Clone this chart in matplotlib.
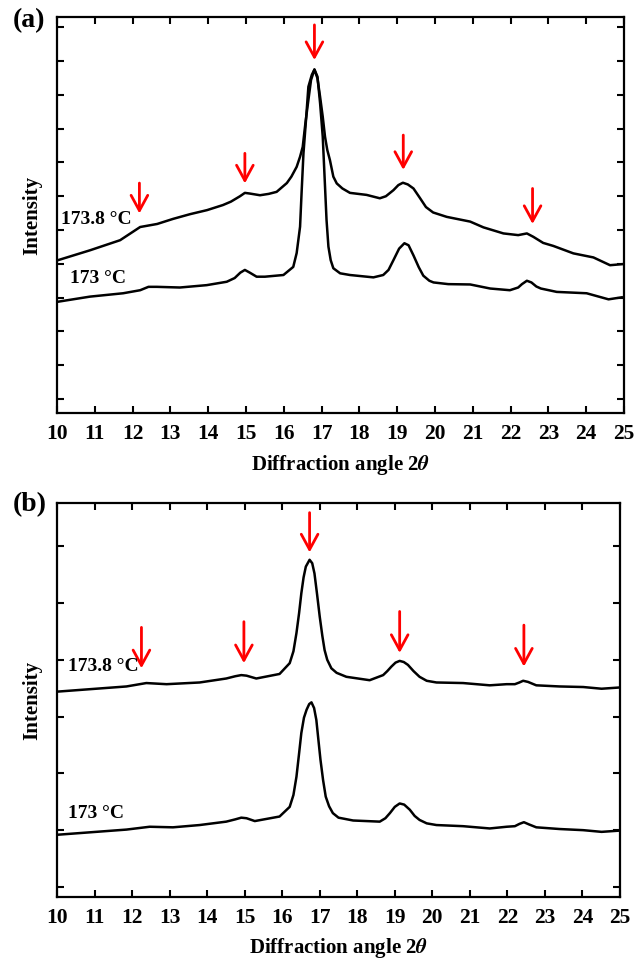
import matplotlib.pyplot as plt

plt.rcParams['font.family'] = ['Liberation Serif', 'DejaVu Serif']
plt.rcParams['font.weight'] = 'bold'
plt.rcParams['mathtext.fontset'] = 'stix'

# ---- panel (a) ----
a_hi_x = [10.03, 10.87, 11.67, 12.2, 12.65, 13.07, 13.52, 13.97, 14.39, 14.6, 14.84, 14.97,
          15.1, 15.37, 15.6, 15.81, 16.08, 16.2, 16.34, 16.43, 16.5, 16.57, 16.64, 16.72,
          16.81, 16.89, 16.96, 17.03, 17.09, 17.15, 17.22, 17.31, 17.4, 17.55, 17.75, 18.19,
          18.54, 18.7, 18.9, 19.03, 19.15, 19.28, 19.43, 19.6, 19.76, 19.95, 20.31, 20.93,
          21.28, 21.81, 22.2, 22.43, 22.6, 22.86, 23.13, 23.66, 24.19, 24.63, 24.94]
a_hi_y = [4.11, 4.40, 4.70, 5.09, 5.18, 5.33, 5.47, 5.59, 5.74, 5.84, 6.00, 6.10,
          6.08, 6.03, 6.07, 6.13, 6.39, 6.58, 6.87, 7.17, 7.46, 8.15, 8.76, 9.44,
          9.75, 9.49, 8.94, 8.35, 7.76, 7.37, 7.07, 6.58, 6.38, 6.23, 6.10, 6.04,
          5.94, 6.00, 6.18, 6.33, 6.40, 6.35, 6.23, 5.95, 5.68, 5.52, 5.39, 5.25,
          5.08, 4.90, 4.85, 4.90, 4.80, 4.62, 4.53, 4.31, 4.19, 3.96, 3.99]

a_lo_x = [10.03, 10.87, 11.75, 12.2, 12.42, 12.64, 13.25, 13.96, 14.49, 14.7, 14.85, 14.97,
          15.1, 15.28, 15.5, 15.99, 16.25, 16.34, 16.43, 16.47, 16.52, 16.59, 16.65, 16.74,
          16.81, 16.89, 16.96, 17.03, 17.09, 17.13, 17.18, 17.24, 17.31, 17.49, 17.75, 18.37,
          18.63, 18.77, 18.9, 19.05, 19.19, 19.3, 19.43, 19.57, 19.69, 19.85, 19.96, 20.35,
          20.93, 21.46, 21.98, 22.2, 22.3, 22.43, 22.55, 22.68, 22.8, 23.22, 24.01, 24.59,
          24.94]
a_lo_y = [2.88, 3.03, 3.13, 3.22, 3.32, 3.32, 3.30, 3.37, 3.47, 3.58, 3.74, 3.82,
          3.74, 3.62, 3.62, 3.67, 3.91, 4.32, 5.10, 6.10, 7.27, 8.30, 9.24, 9.59,
          9.75, 9.54, 8.75, 7.76, 6.29, 5.30, 4.51, 4.11, 3.87, 3.72, 3.67, 3.60,
          3.67, 3.82, 4.11, 4.45, 4.61, 4.55, 4.25, 3.90, 3.65, 3.50, 3.45, 3.40,
          3.39, 3.27, 3.22, 3.30, 3.40, 3.50, 3.45, 3.33, 3.27, 3.17, 3.13, 2.95,
          3.01]

a_arrow_x = [12.18, 14.97, 16.81, 19.16, 22.58]
a_arrow_top = [6.39, 7.27, 11.07, 7.81, 6.23]
a_arrow_tip = [5.49, 6.38, 10.03, 6.78, 5.18]

# ---- panel (b) ----
b_hi_x = [10.03, 11.85, 12.38, 12.92, 13.8, 14.51, 14.75, 14.91, 15.05, 15.31, 15.93, 16.2,
          16.3, 16.38, 16.45, 16.51, 16.57, 16.63, 16.73, 16.8, 16.86, 16.93, 17.0, 17.07,
          17.13, 17.2, 17.31, 17.45, 17.71, 18.33, 18.69, 18.8, 18.91, 19.02, 19.13, 19.24,
          19.35, 19.5, 19.66, 19.85, 20.11, 20.82, 21.53, 21.98, 22.2, 22.32, 22.42, 22.55,
          22.77, 23.39, 24.02, 24.51, 24.95]
b_hi_y = [3.44, 3.53, 3.59, 3.57, 3.60, 3.67, 3.71, 3.73, 3.72, 3.67, 3.75, 3.94,
          4.15, 4.47, 4.82, 5.17, 5.45, 5.64, 5.76, 5.70, 5.52, 5.15, 4.76, 4.42,
          4.17, 4.00, 3.85, 3.77, 3.70, 3.64, 3.73, 3.80, 3.88, 3.95, 3.98, 3.96,
          3.91, 3.80, 3.70, 3.63, 3.60, 3.59, 3.55, 3.57, 3.57, 3.60, 3.63, 3.61,
          3.55, 3.53, 3.52, 3.49, 3.51]

b_lo_x = [10.03, 11.85, 12.47, 13.09, 13.8, 14.51, 14.75, 14.91, 15.05, 15.27, 15.93, 16.2,
          16.3, 16.38, 16.45, 16.51, 16.58, 16.65, 16.72, 16.78, 16.85, 16.91, 16.96, 17.02,
          17.09, 17.16, 17.25, 17.35, 17.5, 17.89, 18.6, 18.75, 18.87, 19.0, 19.13, 19.25,
          19.4, 19.53, 19.66, 19.85, 20.11, 20.82, 21.53, 21.98, 22.2, 22.32, 22.44, 22.58,
          22.77, 23.39, 24.02, 24.51, 24.95]
b_lo_y = [0.92, 1.01, 1.06, 1.05, 1.09, 1.15, 1.19, 1.22, 1.21, 1.16, 1.24, 1.41,
          1.62, 1.94, 2.35, 2.71, 2.98, 3.12, 3.22, 3.25, 3.15, 2.94, 2.62, 2.24,
          1.88, 1.59, 1.42, 1.30, 1.22, 1.17, 1.15, 1.21, 1.30, 1.41, 1.47, 1.45,
          1.36, 1.25, 1.18, 1.12, 1.09, 1.07, 1.03, 1.06, 1.07, 1.11, 1.14, 1.10,
          1.05, 1.02, 1.00, 0.97, 0.99]

b_arrow_x = [12.25, 14.98, 16.73, 19.13, 22.44]
b_arrow_top = [4.57, 4.67, 6.59, 4.85, 4.61]
b_arrow_tip = [3.85, 3.94, 5.89, 4.12, 3.88]

labels = ['173.8 °C', '173 °C']

fig = plt.figure(figsize=(6.44, 9.59), dpi=100)
ax_a = fig.add_axes([0.0885, 0.5693, 0.8805, 0.4125])
ax_b = fig.add_axes([0.0885, 0.0647, 0.8742, 0.4108])


def style(ax, ymin, ymax, nticks):
    ax.set_xlim(10, 25)
    ax.set_ylim(ymin, ymax)
    ax.set_xticks(range(10, 26))
    ax.set_yticks(range(nticks))
    ax.set_yticklabels([])
    ax.tick_params(direction='in', top=True, right=True, length=5, width=1.5,
                   labelsize=15.5, pad=8)
    for s in ax.spines.values():
        s.set_linewidth(1.6)
    ax.set_xlabel('Diffraction angle 2$\\theta$', fontsize=15, fontweight='bold')
    ax.set_ylabel('Intensity', fontsize=15, fontweight='bold')
    ax.xaxis.set_label_coords(0.5, -0.1)
    ax.yaxis.set_label_coords(-0.026, 0.5)


def arrows(ax, xs, tops, tips):
    for x, t, b in zip(xs, tops, tips):
        ax.annotate('', xy=(x, b), xytext=(x, t),
                    arrowprops=dict(arrowstyle='->, head_length=0.55, head_width=0.3',
                                    color='red', lw=2, shrinkA=0, shrinkB=0,
                                    mutation_scale=20))


ax_a.plot(a_hi_x, a_hi_y, color='black', lw=1.8)
ax_a.plot(a_lo_x, a_lo_y, color='black', lw=1.8)
arrows(ax_a, a_arrow_x, a_arrow_top, a_arrow_tip)
ax_a.text(10.1, 5.30, labels[0], fontsize=14, fontweight='bold', va='center')
ax_a.text(10.34, 3.58, labels[1], fontsize=14, fontweight='bold', va='center')
style(ax_a, -0.414, 11.29, 12)

ax_b.plot(b_hi_x, b_hi_y, color='black', lw=1.8)
ax_b.plot(b_lo_x, b_lo_y, color='black', lw=1.8)
arrows(ax_b, b_arrow_x, b_arrow_top, b_arrow_tip)
ax_b.text(10.29, 3.88, labels[0], fontsize=14, fontweight='bold', va='center')
ax_b.text(10.29, 1.30, labels[1], fontsize=14, fontweight='bold', va='center')
style(ax_b, -0.176, 6.76, 7)

fig.text(0.02, 0.979, '(a)', fontsize=20, fontweight='bold', va='center')
fig.text(0.02, 0.4734, '(b)', fontsize=20, fontweight='bold', va='center')

fig.savefig('out.png', dpi=100)
